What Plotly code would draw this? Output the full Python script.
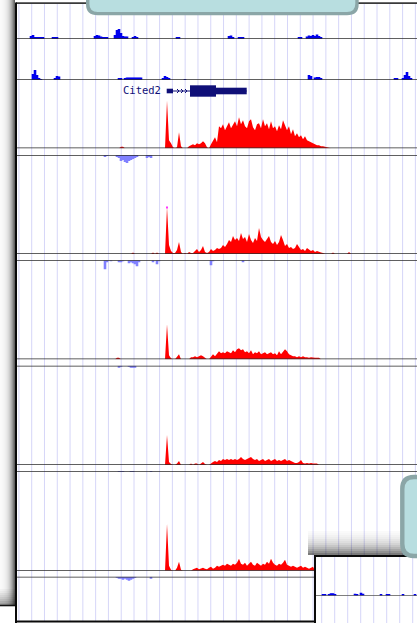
import plotly.graph_objects as go

W, H = 417, 623

# ---------------------------------------------------------------- data
# Stranded signal, 2-unit bins starting at position 100
POS = list(range(100, 356, 2))

PLUS_A = [
    0, 0, 0, 0, 0, 0, 0, 0, 0, 0, 1.5, 1.5, 0, 0, 0, 0,
    0, 0, 0, 0, 0, 0, 0, 0, 0, 0, 0, 0, 0, 0, 0, 0,
    0, 47.7, 8, 5, 1, 0, 1, 16, 2, 0, 0, 0, 2, 3, 4, 3,
    5, 4, 5, 7, 5, 1, 0, 4, 8, 11, 6, 22, 20, 24, 18, 22,
    26, 20, 24, 27, 22, 31, 24, 28, 22, 20, 27, 29, 21, 18, 24, 25,
    20, 29, 22, 25, 19, 27, 20, 22, 17, 23, 19, 28, 23, 18, 22, 14,
    19, 12, 15, 11, 13, 9, 12, 8, 7, 6, 5, 4, 3, 3, 2, 2,
    1.5, 1, 0, 0, 0, 0, 0, 0, 0, 0, 0, 0, 0, 0, 0, 0,
]
PLUS_B = [
    0, 0, 0, 0, 0, 0, 0, 0, 0, 0, 0, 0, 0, 0, 0, 0,
    1.5, 0, 0, 0, 0, 0, 0, 0, 0, 0, 1.5, 0, 1.5, 0, 0, 0,
    0, 47, 9, 3, 1, 1, 4, 12, 2, 0, 1, 0, 2, 1, 1, 3,
    5, 2, 4, 8, 2, 1, 2, 5, 3, 4, 6, 5, 6, 9, 7, 10,
    14, 12, 18, 14, 16, 13, 21, 15, 17, 12, 20, 14, 11, 16, 13, 26,
    17, 14, 12, 15, 18, 12, 10, 13, 9, 12, 19, 14, 8, 10, 6, 7,
    5, 6, 10, 7, 4, 5, 3, 6, 4, 3, 4, 2, 3, 2, 1.5, 1,
    0, 0, 0, 0, 1.5, 0, 0, 0, 0, 0, 0, 0, 2, 0, 0, 0,
]
PLUS_C = [
    0, 0, 0, 0, 0, 0, 0, 0, 1.5, 1.5, 0, 0, 0, 0, 0, 0,
    0, 0, 0, 0, 0, 0, 0, 0, 0, 0, 0, 0, 0, 0, 0, 0,
    0, 35, 4, 1, 0, 0, 3, 5, 0, 0, 0, 0, 0, 2, 2, 3,
    2, 3, 4, 3, 1, 0, 0, 3, 5, 3, 5, 8, 6, 7, 6, 8,
    7, 6, 9, 7, 10, 11, 9, 10, 7, 8, 6, 9, 5, 7, 6, 8,
    5, 6, 7, 5, 6, 7, 5, 6, 4, 8, 5, 7, 10, 8, 5, 4,
    3, 3, 2, 3, 2, 3, 2, 2, 1.5, 2, 1.5, 1.5, 1.5, 1.5, 0, 0,
    0, 0, 0, 0, 0, 0, 0, 0, 0, 0, 0, 0, 0, 0, 0, 0,
]
PLUS_D = [
    0, 0, 0, 0, 0, 0, 0, 0, 0, 0, 0, 0, 0, 0, 0, 0,
    0, 0, 0, 0, 0, 0, 0, 0, 0, 0, 0, 0, 0, 0, 0, 0,
    0, 30, 3, 1, 0, 0, 1.5, 4, 0, 0, 0, 0, 0, 1.5, 0, 1.5,
    1.5, 0, 1.5, 3, 1, 0, 0, 2, 3, 4, 3, 5, 4, 6, 5, 6,
    5, 6, 5, 6, 5, 6, 8, 6, 5, 6, 7, 8, 6, 5, 6, 4,
    5, 6, 4, 5, 6, 4, 5, 6, 4, 5, 4, 5, 6, 4, 5, 4,
    3, 2, 2, 3, 5, 2, 1.5, 2, 1.5, 2, 1.5, 1.5, 1.5, 0, 0, 0,
    0, 0, 0, 0, 0, 0, 0, 0, 0, 0, 0, 0, 0, 0, 0, 0,
]
PLUS_E = [
    0, 0, 0, 0, 0, 0, 0, 0, 0, 0, 0, 0, 0, 0, 0, 0,
    0, 0, 0, 0, 0, 0, 0, 0, 0, 0, 0, 0, 0, 0, 0, 0,
    0, 47, 5, 1, 0, 0, 3, 9, 1, 0, 0, 0, 0, 0, 1.5, 2,
    3, 1.5, 2, 3, 2, 1.5, 3, 4, 2, 3, 5, 4, 5, 6, 5, 7,
    6, 5, 7, 6, 8, 12, 7, 6, 8, 5, 7, 9, 6, 5, 8, 6,
    5, 7, 6, 9, 7, 12, 8, 6, 5, 7, 6, 8, 11, 6, 5, 4,
    5, 4, 3, 4, 5, 3, 4, 3, 2, 3, 4, 0, 0, 0, 0, 0,
    0, 0, 0, 0, 0, 0, 0, 0, 0, 0, 0, 0, 0, 0, 0, 0,
]

# Minus-strand signal (depth below the strand baseline), sparse bins
MINUS_A_POS = [104, 106, 116, 118, 120, 122, 124, 126, 128, 130, 132, 134, 136, 146, 148, 150]
MINUS_A_VAL = [1.5, 1, 1.5, 3, 6, 5, 7, 8, 6, 5, 4, 3, 1.5, 3, 2, 3]
MINUS_B_POS = [104, 106, 110, 118, 120, 122, 128, 130, 132, 134, 136, 138, 152, 156, 158, 210, 212, 242]
MINUS_B_VAL = [9, 2, 1, 2, 2, 1, 3, 2, 3, 4, 6, 2, 2, 4, 1, 5, 1, 2]
MINUS_C_POS = [118, 120, 128, 130, 132, 134]
MINUS_C_VAL = [1.5, 1, 1, 1.5, 1.5, 1.5]
MINUS_D_POS = [118, 120, 122, 130, 132, 150]
MINUS_D_VAL = [1, 1, 1, 1, 1, 1]
MINUS_E_POS = [116, 118, 120, 122, 124, 126, 128, 130, 132, 134, 150]
MINUS_E_VAL = [1, 2, 2, 3, 2, 3, 4, 3, 2, 1, 2]

# Two unstranded tracks at the top
TOP1_POS = [30, 32, 34, 36, 38, 40, 42, 52, 54, 56,
            94, 96, 98, 100, 102, 104, 106, 114, 116, 118, 120, 122, 124, 126,
            132, 134, 136, 176, 178, 228, 230, 232, 238, 240, 242, 298, 300,
            306, 308, 310, 312, 314, 316, 318, 320]
TOP1_VAL = [3, 4, 2, 1.5, 1.5, 1.5, 1.5, 1.5, 1.5, 1.5,
            3, 4, 3.5, 2.5, 2, 2, 1.5, 4, 9, 10, 6, 3, 2.5, 2.5,
            2, 3, 2, 1.5, 1.5, 3, 3.5, 2, 2, 2, 1.5, 1.5, 1.5,
            2.5, 3.5, 3, 4, 3, 4.5, 3, 1.5]
TOP2_POS = [32, 34, 36, 38, 40, 54, 56, 58, 118, 120,
            124, 126, 128, 130, 132, 134, 136, 138, 140, 162, 164, 166, 168, 184,
            308, 310, 314, 316, 318, 320, 394, 396, 402, 404, 406, 408, 410]
TOP2_VAL = [6, 10, 5, 1.5, 1, 2, 4, 3.5, 1.5, 1.5,
            2, 2.5, 2.5, 2.5, 2.5, 2.5, 2.5, 2.5, 2.5, 2, 4, 3, 1.5, 1,
            5, 4, 2.5, 3, 3, 2, 1.5, 1.5, 2, 5, 8, 4, 2]

# Track in the small window at the lower right
INSET_POS = [322, 324, 328, 330, 332, 334, 354, 356, 360, 362, 380, 386, 388, 402, 414]
INSET_VAL = [1.5, 1, 1.5, 2.5, 2.5, 1, 2, 1.5, 3, 2, 1.5, 1.5, 1.5, 1, 1.5]

# Gene model
GENE_NAME = "Cited2"
GENE_TX = (167, 246.7)
GENE_EXON1 = (166.7, 173)
GENE_CDS = (190, 216)
GENE_UTR3 = (216, 246.7)

# ---------------------------------------------------------------- styling
RED = "#ff0000"
DARK_BLUE = "#0000ee"
LIGHT_BLUE = "#8080ff"
NAVY = "#0f0f78"
GRID = "rgb(214,214,248)"
BASE = "#2b2b2b"
TEAL_FILL = "#b8dee0"
TEAL_EDGE = "#8ba6a7"
BIN = 2


def py(y):
    """pixel row -> paper fraction"""
    return 1 - y / H


PLUS_BASE = [148.3, 254.0, 359.3, 465.0, 570.7]
MINUS_BASE = [155.0, 260.3, 365.7, 471.0, 576.7]

fig = go.Figure()
layout_axes = {}
shapes = []

# --- vertical grid (main window) and lower-right window background
for k in range(32):
    gx = 18.9 + 12.79 * k
    shapes.append(dict(type="line", xref="x", yref="paper", x0=gx, x1=gx,
                       y0=py(3), y1=py(621), layer="below",
                       line=dict(color=GRID, width=1)))
shapes.append(dict(type="rect", xref="x", yref="paper", x0=315, x1=W + 5,
                   y0=py(556), y1=py(H + 5), layer="below",
                   fillcolor="white", line=dict(width=0)))
for k in range(8):
    gx = 321.7 + 13 * k
    shapes.append(dict(type="line", xref="x", yref="paper", x0=gx, x1=gx,
                       y0=py(557), y1=py(H), layer="below",
                       line=dict(color=GRID, width=1)))


def add_axis(name, domain, rng):
    layout_axes["yaxis" + name[1:]] = dict(domain=domain, range=rng, visible=False,
                                           fixedrange=True)


def add_bars(name, pos, val, color, domain, rng):
    """sparse bins drawn as slightly overlapping bars"""
    add_axis(name, domain, rng)
    fig.add_trace(go.Bar(x=pos, y=val, width=BIN + 0.6, offset=-0.3, xaxis="x", yaxis=name,
                         marker=dict(color=color, line=dict(width=0)),
                         hoverinfo="skip", showlegend=False))


def add_profile(name, pos, val, color, domain, rng):
    """dense bins drawn as a filled profile through the bin centres"""
    add_axis(name, domain, rng)
    fig.add_trace(go.Scatter(x=[p + BIN / 2 for p in pos], y=val,
                             xaxis="x", yaxis=name, mode="lines",
                             line=dict(shape="linear", width=0, color=color),
                             fill="tozeroy", fillcolor=color,
                             hoverinfo="skip", showlegend=False))


# top unstranded tracks
add_bars("y", TOP1_POS, TOP1_VAL, DARK_BLUE, [py(39), py(4)], [0, 35])
add_bars("y2", TOP2_POS, TOP2_VAL, DARK_BLUE, [py(80), py(45)], [0, 35])
shapes.append(dict(type="line", xref="x", yref="y", x0=16, x1=W + 2, y0=0, y1=0,
                   layer="above", line=dict(color=BASE, width=1.6)))
shapes.append(dict(type="line", xref="x", yref="y2", x0=16, x1=W + 2, y0=0, y1=0,
                   layer="above", line=dict(color=BASE, width=1.6)))

plus = [PLUS_A, PLUS_B, PLUS_C, PLUS_D, PLUS_E]
minus = [(MINUS_A_POS, MINUS_A_VAL), (MINUS_B_POS, MINUS_B_VAL),
         (MINUS_C_POS, MINUS_C_VAL), (MINUS_D_POS, MINUS_D_VAL),
         (MINUS_E_POS, MINUS_E_VAL)]

for i in range(5):
    pa = "y%d" % (3 + i)
    ma = "y%d" % (8 + i)
    rb, mb = PLUS_BASE[i], MINUS_BASE[i]
    add_profile(pa, POS, plus[i], RED, [py(rb), py(rb - 50)], [0, 50])
    mp, mv = minus[i]
    add_bars(ma, mp, [-v for v in mv], LIGHT_BLUE, [py(mb + 45), py(mb)], [-45, 0])
    x_end = 315 if i == 4 else W + 2
    for ax in (pa, ma):
        shapes.append(dict(type="line", xref="x", yref=ax, x0=16, x1=x_end,
                           y0=0, y1=0, layer="above",
                           line=dict(color=BASE, width=1.6)))

# clipped-peak marker on the second plus track
fig.add_trace(go.Scatter(x=[167], y=[46.4], xaxis="x", yaxis="y4", mode="markers",
                         marker=dict(symbol="square", size=2, color="#ff33ff",
                                     line=dict(width=0)),
                         hoverinfo="skip", showlegend=False))

# lower-right window track
add_bars("y13", INSET_POS, INSET_VAL, DARK_BLUE, [py(595.7), py(560)], [0, 35.7])
shapes.append(dict(type="line", xref="x", yref="y13", x0=316, x1=W + 2, y0=0, y1=0,
                   layer="above", line=dict(color="#555555", width=1.6)))

# --- gene model
gy = 91
shapes.append(dict(type="line", xref="x", yref="paper", x0=GENE_TX[0], x1=GENE_TX[1],
                   y0=py(gy), y1=py(gy), layer="above", line=dict(color=NAVY, width=1)))
for cx in (178.5, 182.5, 186.5):
    shapes.append(dict(type="path", xref="x", yref="paper", layer="above",
                       path="M %.2f,%.5f L %.2f,%.5f L %.2f,%.5f" % (
                           cx - 1.5, py(gy - 2), cx + 0.5, py(gy), cx - 1.5, py(gy + 2)),
                       line=dict(color=NAVY, width=1)))
for (a, b), half in ((GENE_EXON1, 2.3), (GENE_CDS, 5.7), (GENE_UTR3, 3.3)):
    shapes.append(dict(type="rect", xref="x", yref="paper", x0=a, x1=b,
                       y0=py(gy - half), y1=py(gy + half), layer="above",
                       fillcolor=NAVY, line=dict(width=0)))

annotations = [dict(text=GENE_NAME, xref="x", yref="paper", x=163, y=py(90.5),
                    xanchor="right", yanchor="middle", showarrow=False,
                    font=dict(family="DejaVu Sans Mono", size=10.5, color=NAVY))]

# --- window chrome: left shadow, frame, lower-right window
greys = [250, 249, 247, 245, 242, 238, 233, 226, 217, 205, 190, 172, 150, 124, 98]
for i, g in enumerate(greys):
    shapes.append(dict(type="rect", xref="x", yref="paper", x0=i, x1=i + 1,
                       y0=py(0), y1=py(605.5), layer="above",
                       fillcolor="rgb(%d,%d,%d)" % (g, g, g), line=dict(width=0)))
for j, a in enumerate([0.03, 0.06, 0.1, 0.14, 0.19, 0.24, 0.3, 0.36]):
    y0 = 589 + 2 * j
    shapes.append(dict(type="rect", xref="x", yref="paper", x0=0, x1=15,
                       y0=py(y0), y1=py(y0 + 2), layer="above",
                       fillcolor="rgba(0,0,0,%.2f)" % a, line=dict(width=0)))
shapes.append(dict(type="line", xref="x", yref="paper", x0=0, x1=16,
                   y0=py(605.5), y1=py(605.5), layer="above",
                   line=dict(color="#111111", width=1.6)))
shapes.append(dict(type="line", xref="x", yref="paper", x0=16, x1=W + 2,
                   y0=py(3.2), y1=py(3.2), layer="above",
                   line=dict(color="#3a3a3a", width=1.8)))
shapes.append(dict(type="rect", xref="x", yref="paper", x0=15, x1=17,
                   y0=py(2.4), y1=py(H + 2), layer="above",
                   fillcolor="#0a0a0a", line=dict(width=0)))
shapes.append(dict(type="rect", xref="x", yref="paper", x0=15, x1=316,
                   y0=py(620.5), y1=py(622.5), layer="above",
                   fillcolor="#0a0a0a", line=dict(width=0)))

# shadow cast above the lower-right window
shadow = [0.02, 0.03, 0.05, 0.07, 0.1, 0.13, 0.17, 0.22, 0.28, 0.35, 0.43, 0.52]
for j, a in enumerate(shadow):
    y0 = 531 + 2 * j
    shapes.append(dict(type="rect", xref="x", yref="paper", x0=308, x1=W + 2,
                       y0=py(y0), y1=py(y0 + 2), layer="above",
                       fillcolor="rgba(0,0,0,%.2f)" % a, line=dict(width=0)))
shapes.append(dict(type="rect", xref="x", yref="paper", x0=314, x1=W + 2,
                   y0=py(555), y1=py(557), layer="above",
                   fillcolor="#0a0a0a", line=dict(width=0)))
shapes.append(dict(type="rect", xref="x", yref="paper", x0=314, x1=316,
                   y0=py(555), y1=py(H + 2), layer="above",
                   fillcolor="#0a0a0a", line=dict(width=0)))

# rounded tooltip boxes
top_box = "M 87.7,{a} L 87.7,{b} Q 87.7,{c} 97.7,{c} L 347,{c} Q 357,{c} 357,{b} L 357,{a} Z".format(
    a=py(-12), b=py(4), c=py(13.6))
shapes.append(dict(type="path", xref="x", yref="paper", path=top_box, layer="above",
                   fillcolor=TEAL_FILL, line=dict(color=TEAL_EDGE, width=3.4)))
right_box = ("M 440,{t} L 414,{t} Q 402.3,{t} 402.3,{t2} L 402.3,{b2} "
             "Q 402.3,{b} 414,{b} L 440,{b} Z").format(
    t=py(477), t2=py(489), b2=py(544), b=py(556))
shapes.append(dict(type="path", xref="x", yref="paper", path=right_box, layer="above",
                   fillcolor=TEAL_FILL, line=dict(color=TEAL_EDGE, width=4.4)))

fig.update_layout(
    width=W, height=H,
    margin=dict(l=0, r=0, t=0, b=0),
    paper_bgcolor="white",
    plot_bgcolor="rgba(0,0,0,0)",
    barmode="overlay",
    showlegend=False,
    xaxis=dict(domain=[0, 1], range=[0, W], visible=False, fixedrange=True),
    shapes=shapes,
    annotations=annotations,
    **layout_axes,
)

fig.write_html("out.html", config={"displayModeBar": False})
